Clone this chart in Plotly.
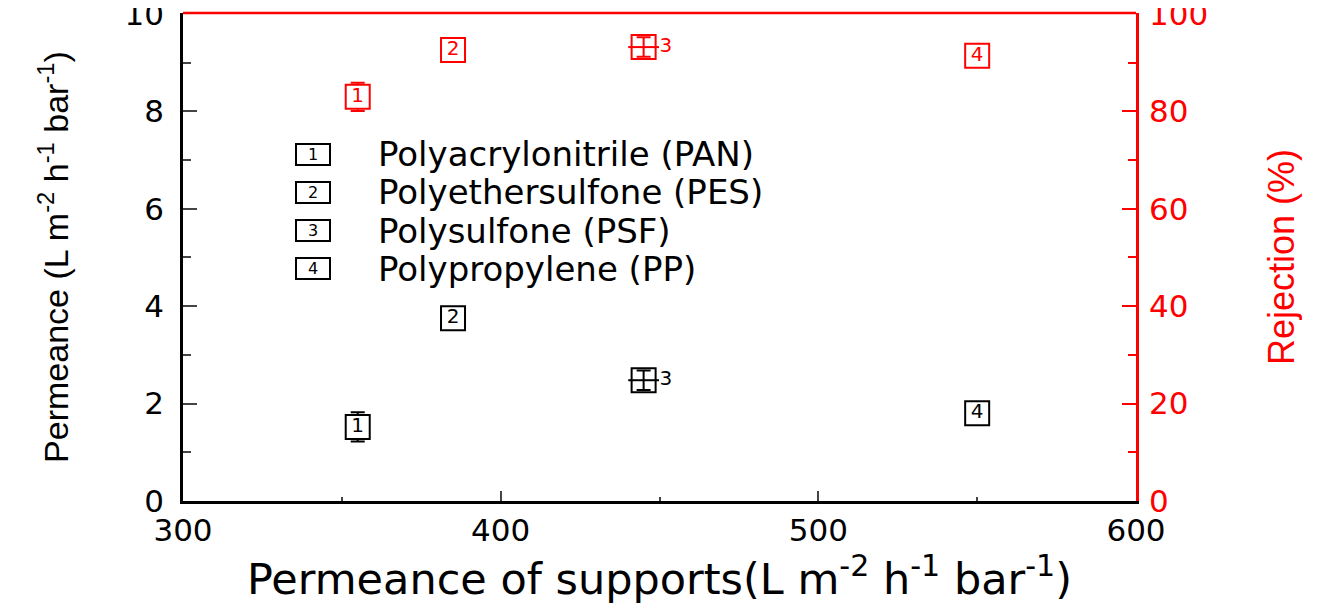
import plotly.graph_objects as go

# data
supports = ["PAN", "PES", "PSF", "PP"]
labels = ["1", "2", "3", "4"]
support_perm = [355, 385, 445, 550]
perm = [1.52, 3.75, 2.48, 1.80]
perm_err = [0.30, 0.22, 0.20, 0.06]
rejection = [83.0, 92.6, 93.2, 91.4]
rejection_err = [2.9, 1.5, 2.0, 2.2]
legend_names = ["Polyacrylonitrile (PAN)", "Polyethersulfone (PES)",
                "Polysulfone (PSF)", "Polypropylene (PP)"]

RED = "#ff0000"
WIDE = "DejaVu Sans, Arial, sans-serif"
NARROW = "Liberation Sans, Arial, sans-serif"
txtpos = ["middle right" if l == "3" else "middle center" for l in labels]
# box 3 is hollow so its error bar shows through, the others hide it
fills = ["rgba(0,0,0,0)" if l == "3" else "white" for l in labels]

fig = go.Figure()

# permeance (left axis, black)
fig.add_trace(go.Scatter(
    x=support_perm, y=perm, mode="markers+text",
    text=labels, textposition=txtpos,
    textfont=dict(family=WIDE, size=20, color="black"),
    marker=dict(symbol="square", size=24, color=fills, line=dict(width=2, color="black")),
    error_y=dict(type="data", array=perm_err, color="black", thickness=2, width=7),
    showlegend=False, cliponaxis=False))
fig.add_trace(go.Scatter(
    x=[support_perm[2]], y=[perm[2]], mode="markers",
    marker=dict(symbol="line-ew-open", size=22, color="black", line=dict(width=2, color="black")),
    showlegend=False))

# rejection (right axis, red)
fig.add_trace(go.Scatter(
    x=support_perm, y=rejection, mode="markers+text", yaxis="y2",
    text=labels, textposition=txtpos,
    textfont=dict(family=WIDE, size=20, color=RED),
    marker=dict(symbol="square", size=24, color=fills, line=dict(width=2, color=RED)),
    error_y=dict(type="data", array=rejection_err, color=RED, thickness=2, width=7),
    showlegend=False, cliponaxis=False))
fig.add_trace(go.Scatter(
    x=[support_perm[2]], y=[rejection[2]], mode="markers", yaxis="y2",
    marker=dict(symbol="line-ew-open", size=22, color=RED, line=dict(width=2, color=RED)),
    showlegend=False))

# legend drawn as annotations (numbered boxes + names)
for i, (lab, name) in enumerate(zip(labels, legend_names)):
    yy = 0.711 - i * 0.0785
    fig.add_annotation(xref="paper", yref="paper", x=0.136, y=yy, text=lab,
                       xanchor="center", yanchor="middle",
                       showarrow=False, font=dict(family=WIDE, size=16, color="black"),
                       bordercolor="black", borderwidth=2, borderpad=1, width=30, height=17)
    fig.add_annotation(xref="paper", yref="paper", x=0.203, y=yy, text=name,
                       xanchor="left", yanchor="middle", showarrow=False,
                       font=dict(family=WIDE, size=34, color="black"))

# red top frame line
fig.add_shape(type="line", xref="paper", yref="paper", x0=0, x1=1, y0=1, y1=1,
              line=dict(color=RED, width=2.5))

fig.update_layout(
    width=1324, height=609,
    margin=dict(l=175, r=196, t=5, b=116),
    plot_bgcolor="white", paper_bgcolor="white",
    xaxis=dict(range=[300, 600], dtick=100, ticks="inside", ticklen=10, tickwidth=2,
               minor=dict(dtick=50, ticks="inside", ticklen=4, tickwidth=2),
               showline=True, linecolor="black", linewidth=2.5, showgrid=False, zeroline=False,
               automargin=False,
               tickfont=dict(family=WIDE, size=31, color="black"),
               title=dict(text="Permeance of supports(L m<sup>-2</sup> h<sup>-1</sup> bar<sup>-1</sup>)",
                          font=dict(family=WIDE, size=43, color="black"), standoff=8)),
    yaxis=dict(range=[0, 10.02], tickvals=[0, 2, 4, 6, 8, 10], ticks="inside", ticklen=14, tickwidth=2,
               minor=dict(tickvals=[1, 3, 5, 7, 9], ticks="inside", ticklen=8, tickwidth=2),
               showline=True, linecolor="black", linewidth=2.5, showgrid=False, zeroline=False,
               automargin=False,
               tickfont=dict(family=WIDE, size=31, color="black"), ticklabelstandoff=10,
               ticklabeloverflow="allow",
               title=dict(text="Permeance (L m<sup>-2</sup> h<sup>-1</sup> bar<sup>-1</sup>)",
                          font=dict(family=NARROW, size=34, color="black"), standoff=46)),
    yaxis2=dict(range=[0, 100.2], tickvals=[0, 20, 40, 60, 80, 100], ticks="inside", ticklen=14, tickwidth=2,
                minor=dict(tickvals=[10, 30, 50, 70, 90], ticks="inside", ticklen=8, tickwidth=2),
                overlaying="y", side="right",
                showline=True, linecolor=RED, linewidth=2.5, showgrid=False, zeroline=False,
                automargin=False,
                tickcolor=RED, tickfont=dict(family=WIDE, size=31, color=RED), ticklabelstandoff=4,
                ticklabeloverflow="allow",
                title=dict(text="Rejection (%)", font=dict(family=NARROW, size=36, color=RED),
                           standoff=62)),
)

fig.write_html("out.html")
